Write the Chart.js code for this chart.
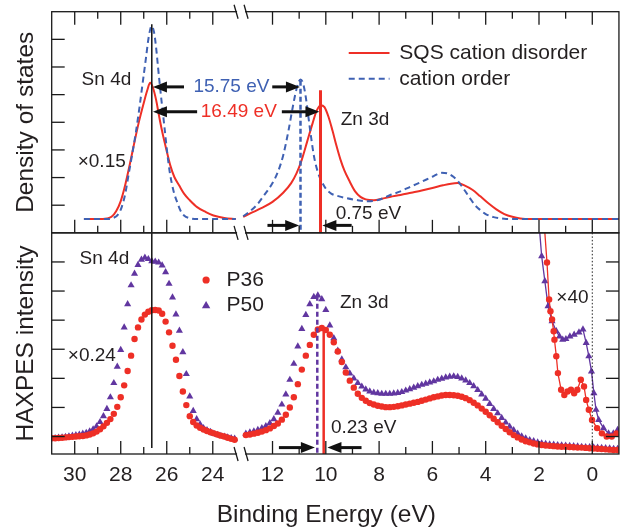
<!DOCTYPE html>
<html>
<head>
<meta charset="utf-8">
<script src="https://cdn.jsdelivr.net/npm/chart.js@4.4.1/dist/chart.umd.min.js"></script>
<style>
  html, body { margin: 0; padding: 0; background: #fff; }
  canvas { display: block; }
</style>
</head>
<body>
<canvas id="chart" width="634" height="530"></canvas>
<script>
const FONT = '"Liberation Sans", Arial, sans-serif';
const INK = '#231f20';
const RED = '#ee2f26';
const BLUE = '#3f61b3';
const PURPLE = '#6136a0';

//tick positions of the two energy segments (eV), labels only on even values
const snTicks = [30, 29, 28, 27, 26, 25, 24];
const valTicks = [12, 11, 10, 9, 8, 7, 6, 5, 4, 3, 2, 1, 0];
const dosTicks = [1, 2, 3, 4, 5, 6, 7];
const haxTicks = [-1, 0, 1, 2, 3, 4, 5];

//peak positions used for the vertical markers (eV)
const snPeak = 26.65;
const znPeakDOS = [10.95, 10.2]; //cation order, SQS
const znPeakHAX = [10.32, 10.08]; //P50, P36

//calculated DOS, Sn 4d region (x0.15)
const dosSnSQS = [[29.6,0.5],[29.0,0.5],[28.6,0.52],[28.4,0.58],[28.2,0.78],[28.0,1.15],[27.8,1.75],[27.6,2.5],[27.4,3.3],[27.2,4.05],[27.0,4.7],[26.85,5.15],[26.72,5.43],[26.6,5.25],[26.46,4.8],[26.35,4.3],[26.24,3.83],[26.1,3.3],[26.0,2.95],[25.85,2.45],[25.67,2.02],[25.45,1.7],[25.25,1.42],[25.0,1.18],[24.68,0.93],[24.3,0.75],[23.97,0.63],[23.5,0.54],[23.0,0.5]];
const dosSnOrder = [[29.6,0.5],[28.6,0.5],[28.35,0.53],[28.1,0.68],[27.95,0.95],[27.8,1.43],[27.65,2.15],[27.5,2.85],[27.35,3.6],[27.2,4.45],[27.05,5.4],[26.9,6.35],[26.78,7.1],[26.66,7.48],[26.55,7.25],[26.45,6.6],[26.38,6.0],[26.25,4.95],[26.1,3.83],[25.98,2.9],[25.86,2.15],[25.7,1.5],[25.53,1.07],[25.4,0.8],[25.25,0.63],[25.0,0.53],[24.6,0.5],[23.0,0.5]];

//calculated DOS, valence band and Zn 3d region
const dosValSQS = [[13.1,0.58],[12.8,0.72],[12.4,0.9],[12.0,1.12],[11.6,1.45],[11.3,1.8],[11.1,2.15],[10.9,2.65],[10.7,3.3],[10.5,3.95],[10.35,4.4],[10.2,4.62],[10.05,4.55],[9.9,4.2],[9.75,3.7],[9.6,3.15],[9.45,2.65],[9.3,2.25],[9.1,1.85],[8.9,1.5],[8.7,1.3],[8.5,1.21],[8.2,1.18],[7.9,1.23],[7.6,1.3],[7.2,1.37],[6.8,1.45],[6.4,1.53],[6.0,1.62],[5.6,1.72],[5.3,1.78],[5.05,1.8],[4.8,1.72],[4.5,1.56],[4.2,1.32],[3.9,1.07],[3.6,0.85],[3.3,0.68],[3.0,0.58],[2.7,0.52],[2.3,0.5],[-1.0,0.5]];
const dosValOrder = [[13.1,0.6],[12.9,0.74],[12.6,1.0],[12.3,1.38],[12.0,1.8],[11.8,2.2],[11.6,2.8],[11.4,3.7],[11.25,4.5],[11.1,5.2],[10.95,5.55],[10.85,5.4],[10.75,4.9],[10.6,3.8],[10.45,2.8],[10.3,2.2],[10.15,1.85],[10.0,1.6],[9.8,1.42],[9.5,1.32],[9.2,1.25],[8.8,1.18],[8.4,1.14],[8.0,1.2],[7.6,1.36],[7.2,1.5],[6.8,1.68],[6.4,1.85],[6.0,2.03],[5.65,2.17],[5.4,2.14],[5.2,2.02],[5.0,1.82],[4.8,1.55],[4.6,1.27],[4.4,1.0],[4.2,0.82],[4.0,0.68],[3.7,0.57],[3.3,0.51],[3.0,0.5],[-1.0,0.5]];

//HAXPES spectra, Sn 4d region (x0.24)
const haxSnP36 = [[31.0,-1.06],[30.85,-1.06],[30.7,-1.05],[30.55,-1.04],[30.4,-1.03],[30.25,-1.02],[30.1,-1.01],[29.95,-1.0],[29.8,-0.99],[29.65,-0.98],[29.5,-0.96],[29.35,-0.93],[29.2,-0.89],[29.05,-0.83],[28.9,-0.75],[28.75,-0.65],[28.6,-0.53],[28.45,-0.4],[28.3,-0.22],[28.15,0.02],[28.0,0.35],[27.85,0.76],[27.7,1.25],[27.55,1.78],[27.4,2.35],[27.25,2.75],[27.1,3.02],[26.95,3.19],[26.8,3.29],[26.65,3.34],[26.5,3.35],[26.35,3.33],[26.2,3.22],[26.05,2.95],[25.9,2.58],[25.75,2.12],[25.6,1.64],[25.45,1.08],[25.3,0.55],[25.15,0.08],[25.0,-0.3],[24.85,-0.5],[24.7,-0.62],[24.55,-0.7],[24.4,-0.76],[24.25,-0.81],[24.1,-0.85],[23.95,-0.89],[23.8,-0.93],[23.65,-0.97],[23.5,-1.0],[23.35,-1.04],[23.2,-1.08],[23.05,-1.11]];
const haxSnP50 = [[31.0,-1.06],[30.85,-1.05],[30.7,-1.04],[30.55,-1.03],[30.4,-1.01],[30.25,-0.99],[30.1,-0.97],[29.95,-0.95],[29.8,-0.93],[29.65,-0.9],[29.5,-0.87],[29.35,-0.82],[29.2,-0.75],[29.05,-0.65],[28.9,-0.5],[28.75,-0.3],[28.6,-0.05],[28.45,0.35],[28.3,0.84],[28.15,1.4],[28.0,1.98],[27.85,2.75],[27.7,3.55],[27.55,4.2],[27.4,4.6],[27.25,4.9],[27.1,5.08],[26.95,5.15],[26.8,5.1],[26.65,5.03],[26.5,5.01],[26.35,4.98],[26.2,4.88],[26.05,4.65],[25.9,4.25],[25.75,3.78],[25.6,3.2],[25.45,2.64],[25.3,1.9],[25.15,1.15],[25.0,0.38],[24.85,-0.12],[24.7,-0.4],[24.55,-0.58],[24.4,-0.71],[24.25,-0.78],[24.1,-0.84],[23.95,-0.9],[23.8,-0.94],[23.65,-0.98],[23.5,-1.0],[23.35,-1.03],[23.2,-1.05],[23.05,-1.07]];

//HAXPES spectra, valence band and Zn 3d region
const haxValP36 = [[13.0,-0.95],[12.85,-0.93],[12.7,-0.9],[12.55,-0.87],[12.4,-0.83],[12.25,-0.78],[12.1,-0.72],[11.95,-0.64],[11.8,-0.55],[11.65,-0.42],[11.5,-0.25],[11.35,0.0],[11.2,0.35],[11.05,0.8],[10.9,1.3],[10.75,1.78],[10.6,2.15],[10.45,2.5],[10.3,2.68],[10.15,2.73],[10.0,2.66],[9.85,2.5],[9.7,2.24],[9.55,1.92],[9.4,1.56],[9.25,1.2],[9.1,0.92],[8.95,0.68],[8.8,0.47],[8.65,0.33],[8.5,0.23],[8.35,0.15],[8.2,0.1],[8.05,0.06],[7.9,0.03],[7.75,0.01],[7.6,0.01],[7.45,0.02],[7.3,0.04],[7.15,0.07],[7.0,0.1],[6.85,0.13],[6.7,0.16],[6.55,0.19],[6.4,0.23],[6.25,0.27],[6.1,0.31],[5.95,0.35],[5.8,0.38],[5.65,0.41],[5.5,0.43],[5.35,0.43],[5.2,0.42],[5.05,0.4],[4.9,0.37],[4.75,0.32],[4.6,0.25],[4.45,0.16],[4.3,0.07],[4.15,-0.04],[4.0,-0.15],[3.85,-0.27],[3.7,-0.39],[3.55,-0.51],[3.4,-0.63],[3.25,-0.74],[3.1,-0.85],[2.95,-0.95],[2.8,-1.03],[2.65,-1.1],[2.5,-1.16],[2.35,-1.2],[2.2,-1.24],[2.05,-1.27],[1.9,-1.29],[1.75,-1.31],[1.6,-1.32],[1.45,-1.33],[1.3,-1.34],[1.15,-1.35],[1.0,-1.35],[0.85,-1.36],[0.7,-1.37],[0.55,-1.38],[0.4,-1.38],[0.25,-1.39],[0.1,-1.4],[-0.05,-1.41],[-0.2,-1.42],[-0.35,-1.43],[-0.5,-1.44],[-0.65,-1.45],[-0.8,-1.46],[-0.95,-1.46]];
const haxValP50 = [[13.0,-0.9],[12.85,-0.86],[12.7,-0.82],[12.55,-0.77],[12.4,-0.71],[12.25,-0.64],[12.1,-0.54],[11.95,-0.4],[11.8,-0.18],[11.65,0.1],[11.5,0.45],[11.35,0.95],[11.2,1.5],[11.05,2.1],[10.9,2.7],[10.75,3.18],[10.6,3.55],[10.45,3.8],[10.3,3.85],[10.15,3.72],[10.0,3.35],[9.85,2.82],[9.7,2.38],[9.55,1.95],[9.4,1.65],[9.25,1.38],[9.1,1.17],[8.95,1.0],[8.8,0.84],[8.65,0.72],[8.5,0.62],[8.35,0.55],[8.2,0.51],[8.05,0.49],[7.9,0.47],[7.75,0.47],[7.6,0.47],[7.45,0.48],[7.3,0.5],[7.15,0.53],[7.0,0.58],[6.85,0.63],[6.7,0.68],[6.55,0.73],[6.4,0.78],[6.25,0.82],[6.1,0.86],[5.95,0.9],[5.8,0.95],[5.65,0.99],[5.5,1.03],[5.35,1.06],[5.2,1.07],[5.05,1.05],[4.9,1.0],[4.75,0.93],[4.6,0.84],[4.45,0.73],[4.3,0.6],[4.15,0.45],[4.0,0.3],[3.85,0.12],[3.7,-0.05],[3.55,-0.2],[3.4,-0.36],[3.25,-0.52],[3.1,-0.66],[2.95,-0.78],[2.8,-0.9],[2.65,-0.99],[2.5,-1.06],[2.35,-1.12],[2.2,-1.16],[2.05,-1.2],[1.9,-1.23],[1.75,-1.25],[1.6,-1.27],[1.45,-1.28],[1.3,-1.29],[1.15,-1.3],[1.0,-1.31],[0.85,-1.32],[0.7,-1.33],[0.55,-1.34],[0.4,-1.35],[0.25,-1.36],[0.1,-1.36],[-0.05,-1.37],[-0.2,-1.38],[-0.35,-1.39],[-0.5,-1.4],[-0.65,-1.41],[-0.8,-1.42],[-0.95,-1.42]];

//HAXPES spectra near the Fermi level (x40)
const haxEdgeP36 = [[1.78,6.0],[1.7,4.98],[1.62,3.71],[1.57,3.31],[1.51,3.02],[1.45,2.62],[1.42,2.33],[1.35,1.76],[1.29,1.18],[1.17,0.61],[1.05,0.43],[0.93,0.55],[0.8,0.61],[0.68,0.49],[0.56,0.61],[0.43,0.95],[0.31,0.72],[0.23,0.26],[0.13,-0.08],[0.01,-0.43],[-0.18,-0.71],[-0.36,-0.89],[-0.54,-1.0],[-0.73,-1.0],[-0.91,-0.89]];
const haxEdgeP50 = [[1.97,6.0],[1.9,5.2],[1.78,4.34],[1.66,3.48],[1.51,2.96],[1.35,2.62],[1.23,2.44],[1.11,2.33],[0.99,2.35],[0.84,2.44],[0.68,2.5],[0.5,2.58],[0.35,2.68],[0.23,2.22],[0.13,1.76],[0.03,1.24],[-0.06,0.49],[-0.14,-0.08],[-0.24,-0.43],[-0.42,-0.71],[-0.61,-0.89],[-0.79,-0.89],[-0.95,-0.77]];

//builds a line dataset for one segment of one panel
function lineSet(data, xAxis, yAxis, color, width, dash, order) {
	return {
		data: data,
		xAxisID: xAxis,
		yAxisID: yAxis,
		showLine: true,
		borderColor: color,
		borderWidth: width,
		borderDash: dash || [],
		pointRadius: 0,
		cubicInterpolationMode: 'monotone',
		order: order
	};
}

//builds a marker-only dataset
function markerSet(data, xAxis, yAxis, color, style, radius, order) {
	return {
		data: data,
		xAxisID: xAxis,
		yAxisID: yAxis,
		showLine: false,
		pointStyle: style,
		pointRadius: radius,
		pointBackgroundColor: color,
		pointBorderWidth: 0,
		order: order
	};
}

//builds a two point vertical marker line
function vline(energy, from, to, xAxis, yAxis, color, width, dash, order) {
	const set = lineSet([[energy, from], [energy, to]], xAxis, yAxis, color, width, dash, order);
	set.cubicInterpolationMode = 'default';
	set.borderCapStyle = 'butt';
	return set;
}

//label shown only on even energies
function evenLabel(value) {
	return (Number.isInteger(value) && value % 2 === 0) ? String(value) : '';
}

function energyAxis(ticks, min, max, weight) {
	return {
		type: 'linear', axis: 'x', position: 'bottom', stack: 'energy', stackWeight: weight,
		min: min, max: max, reverse: true,
		grid: { display: false, drawTicks: false },
		border: { display: false },
		ticks: { autoSkip: false, maxRotation: 0, padding: 9, color: INK, font: { family: FONT, size: 21 }, callback: evenLabel },
		afterBuildTicks: scale => { scale.ticks = ticks.map(v => ({ value: v })); },
		afterFit: scale => { scale.height = 76; }
	};
}

function intensityAxis(ticks, min, max, title) {
	return {
		type: 'linear', axis: 'y', position: 'left', stack: 'panels', stackWeight: 1,
		min: min, max: max,
		grid: { display: false, drawTicks: false },
		border: { display: false },
		ticks: { display: false },
		title: { display: true, text: title, color: INK, font: { family: FONT, size: 24.5 }, padding: { top: 12, bottom: 0 } },
		afterBuildTicks: scale => { scale.ticks = ticks.map(v => ({ value: v })); },
		afterFit: scale => { scale.width = 51.7; }
	};
}

function text(ctx, str, x, y, color, size, align) {
	ctx.font = size + 'px ' + FONT;
	ctx.fillStyle = color;
	ctx.textAlign = align || 'left';
	ctx.textBaseline = 'middle';
	ctx.fillText(str, x, y);
}

//horizontal black arrow, head at (x2, y)
function arrow(ctx, x1, x2, y) {
	const dir = Math.sign(x2 - x1);
	ctx.save();
	ctx.strokeStyle = '#111';
	ctx.fillStyle = '#111';
	ctx.lineWidth = 3;
	ctx.beginPath();
	ctx.moveTo(x1, y);
	ctx.lineTo(x2 - dir * 12, y);
	ctx.stroke();
	ctx.beginPath();
	ctx.moveTo(x2, y);
	ctx.lineTo(x2 - dir * 14, y - 5.5);
	ctx.lineTo(x2 - dir * 14, y + 5.5);
	ctx.closePath();
	ctx.fill();
	ctx.restore();
}

//frame, inward ticks, axis break, labels, arrows and legends
const decorations = {
	id: 'decorations',
	afterDatasetsDraw(chart) {
		const ctx = chart.ctx;
		const { xL, xR, yT, yB } = chart.scales;
		const left = xL.left, right = xR.right, brk = xL.right;

		ctx.save();
		ctx.strokeStyle = '#1a1a1a';
		ctx.lineWidth = 1.3;
		ctx.strokeRect(left, yT.top, right - left, yT.bottom - yT.top);
		ctx.strokeRect(left, yB.top, right - left, yB.bottom - yB.top);

		//energy ticks: down from the top edge, up from the two lower edges
		[[yT.top, 1], [yT.bottom, -1], [yB.bottom, -1]].forEach(([y, dir]) => {
			[xL, xR].forEach(scale => {
				scale.ticks.forEach(t => {
					const x = scale.getPixelForValue(t.value);
					const len = t.value % 2 === 0 ? 13 : 7;
					ctx.beginPath();
					ctx.moveTo(x, y);
					ctx.lineTo(x, y + dir * len);
					ctx.stroke();
				});
			});
		});

		//intensity ticks
		yT.ticks.forEach(t => {
			const y = yT.getPixelForValue(t.value);
			ctx.beginPath(); ctx.moveTo(left, y); ctx.lineTo(left + 13, y); ctx.stroke();
		});
		yB.ticks.forEach(t => {
			const y = yB.getPixelForValue(t.value);
			ctx.beginPath(); ctx.moveTo(left, y); ctx.lineTo(left + 13, y); ctx.stroke();
			ctx.beginPath(); ctx.moveTo(right, y); ctx.lineTo(right - 13, y); ctx.stroke();
		});

		//axis break marks
		[yT.top, yT.bottom, yB.bottom].forEach(y => {
			ctx.fillStyle = '#fff';
			ctx.fillRect(brk - 4, y - 2, 8, 4);
			[brk - 5, brk + 5].forEach(c => {
				ctx.beginPath(); ctx.moveTo(c - 2, y - 7); ctx.lineTo(c + 2, y + 7); ctx.stroke();
			});
		});
		ctx.restore();

		//top panel annotations
		text(ctx, 'Sn 4d', xL.getPixelForValue(29.7), yT.getPixelForValue(5.52), INK, 19);
		text(ctx, '\u00d70.15', xL.getPixelForValue(29.87), yT.getPixelForValue(2.57), INK, 19);
		text(ctx, '15.75 eV', xL.getPixelForValue(23.19), yT.getPixelForValue(5.28), BLUE, 19, 'center');
		text(ctx, '16.49 eV', xL.getPixelForValue(22.87), yT.getPixelForValue(4.38), RED, 19, 'center');
		arrow(ctx, xL.getPixelForValue(25.25), xL.getPixelForValue(26.6), yT.getPixelForValue(5.28));
		arrow(ctx, xR.getPixelForValue(12.01), xR.getPixelForValue(10.97), yT.getPixelForValue(5.28));
		arrow(ctx, xL.getPixelForValue(24.68), xL.getPixelForValue(26.6), yT.getPixelForValue(4.38));
		arrow(ctx, xR.getPixelForValue(11.65), xR.getPixelForValue(10.24), yT.getPixelForValue(4.38));
		text(ctx, 'Zn 3d', xR.getPixelForValue(9.44), yT.getPixelForValue(4.1), INK, 19);
		text(ctx, '0.75 eV', xR.getPixelForValue(9.63), yT.getPixelForValue(0.7), INK, 19);
		arrow(ctx, xR.getPixelForValue(12.19), xR.getPixelForValue(11.0), yT.getPixelForValue(0.27));
		arrow(ctx, xR.getPixelForValue(9.03), xR.getPixelForValue(10.13), yT.getPixelForValue(0.27));

		//top legend
		ctx.save();
		ctx.lineWidth = 2;
		ctx.strokeStyle = RED;
		ctx.beginPath();
		ctx.moveTo(xR.getPixelForValue(9.14), yT.getPixelForValue(6.51));
		ctx.lineTo(xR.getPixelForValue(7.61), yT.getPixelForValue(6.51));
		ctx.stroke();
		ctx.strokeStyle = BLUE;
		ctx.setLineDash([6, 4]);
		ctx.beginPath();
		ctx.moveTo(xR.getPixelForValue(9.14), yT.getPixelForValue(5.57));
		ctx.lineTo(xR.getPixelForValue(7.61), yT.getPixelForValue(5.57));
		ctx.stroke();
		ctx.restore();
		text(ctx, 'SQS cation disorder', xR.getPixelForValue(7.24), yT.getPixelForValue(6.51), INK, 21);
		text(ctx, 'cation order', xR.getPixelForValue(7.24), yT.getPixelForValue(5.57), INK, 21);

		//bottom panel annotations
		text(ctx, 'Sn 4d', xL.getPixelForValue(29.79), yB.getPixelForValue(5.11), INK, 19);
		text(ctx, '\u00d70.24', xL.getPixelForValue(30.3), yB.getPixelForValue(1.76), INK, 19);
		text(ctx, 'Zn 3d', xR.getPixelForValue(9.47), yB.getPixelForValue(3.6), INK, 19);
		text(ctx, '\u00d740', xR.getPixelForValue(1.35), yB.getPixelForValue(3.77), INK, 19);
		text(ctx, '0.23 eV', xR.getPixelForValue(9.81), yB.getPixelForValue(-0.71), INK, 19);
		arrow(ctx, xR.getPixelForValue(11.76), xR.getPixelForValue(10.41), yB.getPixelForValue(-1.38));
		arrow(ctx, xR.getPixelForValue(8.66), xR.getPixelForValue(9.94), yB.getPixelForValue(-1.38));

		//bottom legend
		const mx = xL.getPixelForValue(24.29);
		ctx.save();
		ctx.fillStyle = RED;
		ctx.beginPath();
		ctx.arc(mx, yB.getPixelForValue(4.38), 3.6, 0, Math.PI * 2);
		ctx.fill();
		ctx.fillStyle = PURPLE;
		const ty = yB.getPixelForValue(3.5);
		ctx.beginPath();
		ctx.moveTo(mx, ty - 4.5);
		ctx.lineTo(mx + 4.2, ty + 2.7);
		ctx.lineTo(mx - 4.2, ty + 2.7);
		ctx.closePath();
		ctx.fill();
		ctx.restore();
		text(ctx, 'P36', xL.getPixelForValue(23.4), yB.getPixelForValue(4.38), INK, 21);
		text(ctx, 'P50', xL.getPixelForValue(23.4), yB.getPixelForValue(3.5), INK, 21);

		//shared energy axis title
		text(ctx, 'Binding Energy (eV)', (left + right) / 2 - 9, 515, INK, 24.5, 'center');
	}
};

const datasets = [
	//top panel: calculated density of states
	vline(znPeakDOS[1], 5.16, 0, 'xR', 'yT', RED, 3, null, 1),
	vline(znPeakDOS[0], 5.5, 0, 'xR', 'yT', BLUE, 2.5, [5, 3], 2),
	vline(snPeak, 7.55, 0, 'xL', 'yT', '#111', 1.5, null, 3),
	lineSet(dosSnOrder, 'xL', 'yT', BLUE, 2, [6, 4], 4),
	lineSet(dosValOrder, 'xR', 'yT', BLUE, 2, [6, 4], 4),
	lineSet(dosSnSQS, 'xL', 'yT', RED, 2, null, 5),
	lineSet(dosValSQS, 'xR', 'yT', RED, 2, null, 5),

	//bottom panel: measured HAXPES spectra
	vline(znPeakHAX[1], 2.73, -1.6, 'xR', 'yB', RED, 2.5, null, 1),
	vline(znPeakHAX[0], 3.84, -1.6, 'xR', 'yB', PURPLE, 2.5, [5, 3], 2),
	vline(snPeak, 6, -1.39, 'xL', 'yB', '#111', 1.5, null, 3),
	vline(0, 6, -1.6, 'xR', 'yB', '#222', 1, [1.5, 2], 3),
	markerSet(haxSnP36, 'xL', 'yB', RED, 'circle', 3.2, 4),
	markerSet(haxValP36, 'xR', 'yB', RED, 'circle', 3.2, 4),
	markerSet(haxSnP50, 'xL', 'yB', PURPLE, 'triangle', 4.1, 5),
	markerSet(haxValP50, 'xR', 'yB', PURPLE, 'triangle', 4.1, 5),
	Object.assign(lineSet(haxEdgeP36, 'xR', 'yB', RED, 1.3, null, 4), {
		cubicInterpolationMode: 'default',
		pointRadius: c => c.dataIndex === 0 ? 0 : 3.2,
		pointStyle: 'circle',
		pointBackgroundColor: RED,
		pointBorderWidth: 0
	}),
	Object.assign(lineSet(haxEdgeP50, 'xR', 'yB', PURPLE, 1.3, null, 5), {
		cubicInterpolationMode: 'default',
		pointRadius: c => c.dataIndex === 0 ? 0 : 4.1,
		pointStyle: 'triangle',
		pointBackgroundColor: PURPLE,
		pointBorderWidth: 0
	})
];

new Chart(document.getElementById('chart').getContext('2d'), {
	type: 'scatter',
	data: { datasets: datasets },
	options: {
		responsive: false,
		animation: false,
		events: [],
		layout: { padding: { top: 11.7, right: 3.3, left: 0, bottom: 0 } },
		plugins: { legend: { display: false }, tooltip: { enabled: false } },
		scales: {
			xL: energyAxis(snTicks, 22.77, 31.0, 193.3),
			xR: energyAxis(valTicks, -1.0, 13.18, 385.7),
			yB: intensityAxis(haxTicks, -1.6, 6, 'HAXPES intensity'),
			yT: intensityAxis(dosTicks, 0, 8, 'Density of states')
		}
	},
	plugins: [decorations]
});
</script>
</body>
</html>
